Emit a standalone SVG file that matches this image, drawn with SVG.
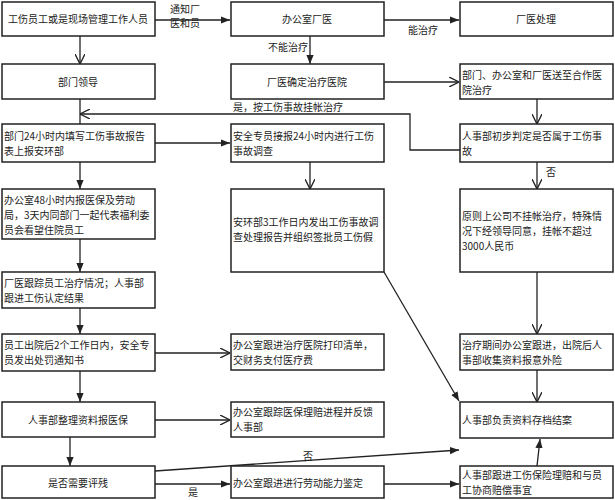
<svg xmlns="http://www.w3.org/2000/svg" width="615" height="500" viewBox="0 0 615 500">
<style>
rect{fill:#fff;stroke:#222;stroke-width:1.5}
text{font-family:"Noto Sans CJK SC","Liberation Serif",serif;font-size:10px;fill:#222}
.c{text-anchor:middle}
#connectors line,#connectors polyline{stroke:#222;stroke-width:1.3;fill:none}
.f{marker-end:url(#af)}
.o{marker-end:url(#ao)}
</style>
<defs>
<marker id="af" viewBox="0 0 10 10" refX="10" refY="5" markerWidth="7" markerHeight="7" orient="auto"><path d="M0,1 L10,5 L0,9 z" fill="#222"/></marker>
<marker id="ao" viewBox="0 0 10 10" refX="10" refY="5" markerWidth="8" markerHeight="8" orient="auto"><path d="M0,0 L10,5 L0,10" fill="none" stroke="#222" stroke-width="1.3"/></marker>
</defs>
<rect width="615" height="500" style="fill:#fff;stroke:none"/>
<g id="connectors">
<line class="f" x1="155" y1="20" x2="230" y2="20"/>
<line class="f" x1="384" y1="20" x2="459" y2="20"/>
<line class="f" x1="310" y1="36" x2="310" y2="64"/>
<line class="o" x1="80" y1="36" x2="80" y2="64"/>
<line class="o" x1="384" y1="82" x2="459" y2="82"/>
<line class="o" x1="537" y1="99" x2="537" y2="124"/>
<polyline class="o" points="460,150 410,150 410,114 80,114"/>
<line x1="80" y1="99" x2="80" y2="124"/>
<line class="f" x1="155" y1="143" x2="230" y2="143"/>
<line class="f" x1="80" y1="162" x2="80" y2="189"/>
<line class="o" x1="310" y1="162" x2="310" y2="189"/>
<line class="o" x1="537" y1="162" x2="537" y2="189"/>
<line class="f" x1="80" y1="239" x2="80" y2="272"/>
<line class="f" x1="384" y1="272" x2="459" y2="401"/>
<line class="o" x1="537" y1="272" x2="537" y2="334"/>
<line class="f" x1="80" y1="308" x2="80" y2="334"/>
<line class="o" x1="155" y1="353" x2="230" y2="353"/>
<line class="o" x1="537" y1="370" x2="537" y2="402"/>
<line class="f" x1="80" y1="371" x2="80" y2="402"/>
<line class="o" x1="155" y1="420" x2="230" y2="420"/>
<line class="f" x1="70" y1="437" x2="70" y2="466"/>
<line class="f" x1="155" y1="471" x2="459" y2="450"/>
<line class="f" x1="155" y1="484" x2="230" y2="484"/>
<line class="f" x1="384" y1="484" x2="459" y2="484"/>
<line class="f" x1="537" y1="466" x2="540" y2="439"/>
<text x="170" y="13">通知厂</text><text x="170" y="27">医和员</text>
<text x="408" y="34">能治疗</text>
<text x="268" y="51">不能治疗</text>
<text x="233" y="111">是，按工伤事故挂帐治疗</text>
<text x="546" y="176">否</text>
<text x="303" y="460">否</text>
<text x="188" y="496">是</text>
</g>
<g id="n1"><rect x="2" y="2" width="153" height="34"/><text class="c" x="78" y="23">工伤员工或是现场管理工作人员</text></g>
<g id="n2"><rect x="231" y="2" width="153" height="34"/><text class="c" x="307" y="23">办公室厂医</text></g>
<g id="n3"><rect x="460" y="2" width="153" height="34"/><text class="c" x="536" y="23">厂医处理</text></g>
<g id="n4"><rect x="2" y="64" width="153" height="35"/><text class="c" x="78" y="86">部门领导</text></g>
<g id="n5"><rect x="231" y="64" width="153" height="35"/><text class="c" x="307" y="86">厂医确定治疗医院</text></g>
<g id="n6"><rect x="460" y="64" width="153" height="35"/><text x="462" y="79">部门、办公室和厂医送至合作医</text><text x="462" y="94">院治疗</text></g>
<g id="n7"><rect x="2" y="124" width="153" height="38"/><text x="4" y="140">部门24小时内填写工伤事故报告</text><text x="4" y="155">表上报安环部</text></g>
<g id="n8"><rect x="231" y="124" width="153" height="38"/><text x="233" y="140">安全专员接报24小时内进行工伤</text><text x="233" y="155">事故调查</text></g>
<g id="n9"><rect x="460" y="124" width="153" height="38"/><text x="462" y="140">人事部初步判定是否属于工伤事</text><text x="462" y="155">故</text></g>
<g id="n10"><rect x="2" y="189" width="153" height="50"/><text x="4" y="204">办公室48小时内报医保及劳动</text><text x="4" y="219">局，3天内同部门一起代表福利委</text><text x="4" y="234">员会看望住院员工</text></g>
<g id="n11"><rect x="231" y="189" width="153" height="83"/><text x="233" y="226">安环部3工作日内发出工伤事故调</text><text x="233" y="241">查处理报告并组织签批员工伤假</text></g>
<g id="n12"><rect x="460" y="189" width="153" height="83"/><text x="462" y="220">原则上公司不挂帐治疗，特殊情</text><text x="462" y="235">况下经领导同意，挂帐不超过</text><text x="462" y="250">3000人民币</text></g>
<g id="n13"><rect x="2" y="272" width="153" height="36"/><text x="4" y="287">厂医跟踪员工治疗情况；人事部</text><text x="4" y="302">跟进工伤认定结果</text></g>
<g id="n14"><rect x="2" y="334" width="153" height="37"/><text x="4" y="349">员工出院后2个工作日内，安全专</text><text x="4" y="364">员发出处罚通知书</text></g>
<g id="n15"><rect x="231" y="334" width="153" height="36"/><text x="233" y="349">办公室跟进治疗医院打印清单，</text><text x="233" y="364">交财务支付医疗费</text></g>
<g id="n16"><rect x="460" y="334" width="153" height="36"/><text x="462" y="349">治疗期间办公室跟进，出院后人</text><text x="462" y="364">事部收集资料报意外险</text></g>
<g id="n17"><rect x="2" y="402" width="153" height="35"/><text class="c" x="78" y="424">人事部整理资料报医保</text></g>
<g id="n18"><rect x="231" y="402" width="153" height="35"/><text x="233" y="416">办公室跟踪医保理赔进程并反馈</text><text x="233" y="431">人事部</text></g>
<g id="n19"><rect x="460" y="402" width="153" height="36"/><text x="462" y="424">人事部负责资料存档结案</text></g>
<g id="n20"><rect x="2" y="466" width="153" height="32"/><text class="c" x="78" y="487">是否需要评残</text></g>
<g id="n21"><rect x="231" y="466" width="153" height="32"/><text x="233" y="487">办公室跟进进行劳动能力鉴定</text></g>
<g id="n22"><rect x="460" y="466" width="153" height="32"/><text x="462" y="479">人事部跟进工伤保险理赔和与员</text><text x="462" y="494">工协商赔偿事宜</text></g>
</svg>
